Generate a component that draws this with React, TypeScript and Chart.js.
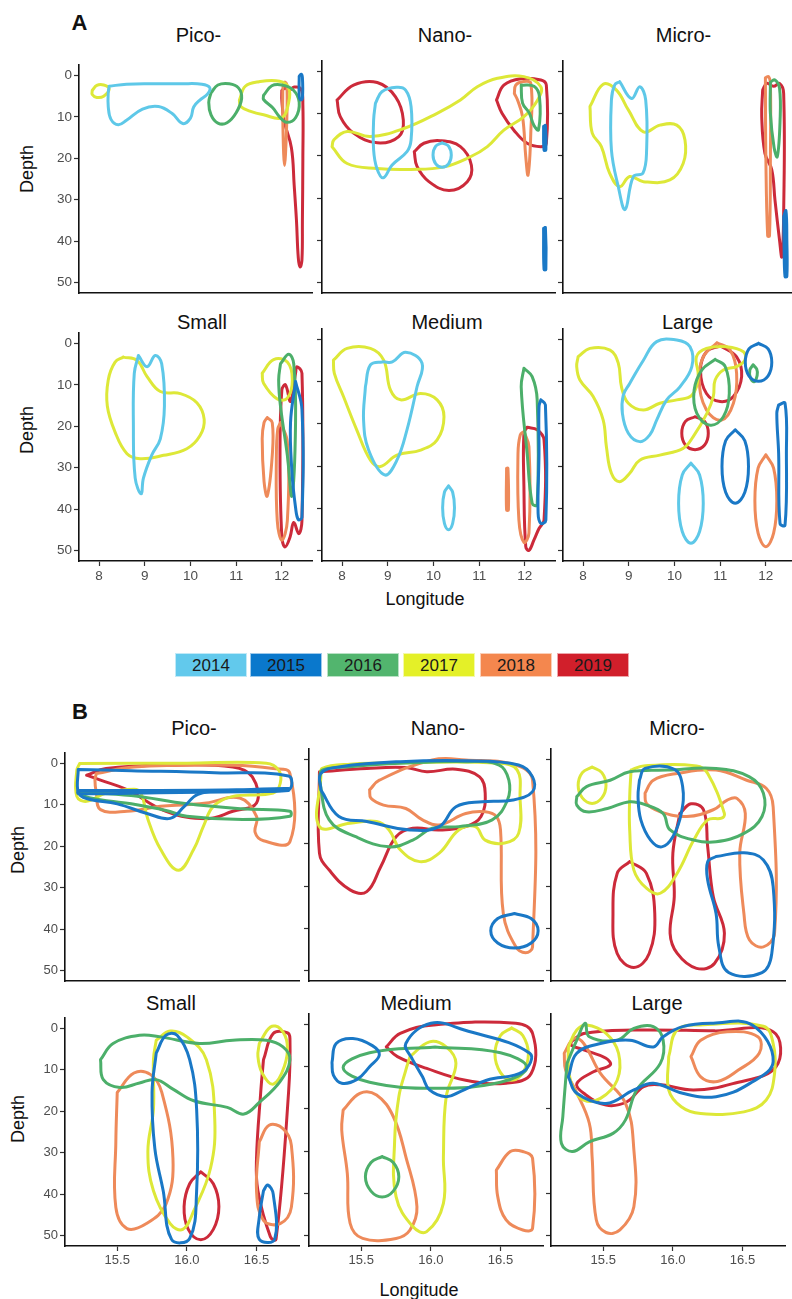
import React, { useEffect, useRef } from "react";
import { Chart, registerables } from "chart.js";
Chart.register(...registerables);

// ---------- legend / colours ----------
const YEARS = ["2014", "2015", "2016", "2017", "2018", "2019"];
const LINE_COLORS = ["#5ec8e8", "#1a78c6", "#4caf6a", "#dde838", "#ee8a5a", "#cc2a3a"];
const LEGEND_COLORS = ["#62c9ec", "#0a78cc", "#52b56e", "#e4f028", "#f4874e", "#d11f2b"];

// ---------- axes ----------
const DEPTH_TICKS = [0, 10, 20, 30, 40, 50];
const DEPTH_LABELS = ["0", "10", "20", "30", "40", "50"];
const A_LON_TICKS = [8, 9, 10, 11, 12];
const A_LON_LABELS = ["8", "9", "10", "11", "12"];
const B_LON_TICKS = [15.5, 16.0, 16.5];
const B_LON_LABELS = ["15.5", "16.0", "16.5"];
const A_TITLES = ["Pico-", "Nano-", "Micro-", "Small", "Medium", "Large"];
const B_TITLES = ["Pico-", "Nano-", "Micro-", "Small", "Medium", "Large"];

// ---------- contour lines, [longitude, depth] ----------
// A Pico-
const aPico14 = [[8.22,2.6],[8.6,2.1],[9.2,2.0],[9.8,2.0],[10.25,2.1],[10.42,2.9],[10.38,4.4],[10.2,6.0],[10.07,7.6],[10.0,10.3],[9.83,11.6],[9.6,9.2],[9.3,7.5],[8.95,8.1],[8.6,10.8],[8.42,11.9],[8.26,10.6],[8.2,7.5],[8.2,4.2],[8.22,2.6]];
const aPico15 = [[12.38,0.2],[12.42,-0.3],[12.45,0.5],[12.45,5.5],[12.41,5.9],[12.38,5],[12.38,0.2]];
const aPico16a = [[10.45,4.2],[10.6,2.3],[10.85,2.0],[11.05,3.0],[11.12,5.5],[11.0,9.0],[10.8,11.4],[10.6,11.5],[10.45,9.5],[10.4,6.5],[10.45,4.2]];
const aPico16b = [[11.6,4.8],[11.78,2.5],[12.0,2.3],[12.25,3.5],[12.38,6.5],[12.3,10.2],[12.1,11.3],[11.95,10.0],[11.8,7.8],[11.6,5.8],[11.6,4.8]];
const aPico17a = [[7.85,3.6],[7.95,2.4],[8.1,2.3],[8.22,3.2],[8.1,5.0],[7.95,5.3],[7.85,4.6],[7.85,3.6]];
const aPico17b = [[11.07,6.0],[11.2,2.6],[11.5,1.5],[11.95,1.4],[12.15,3.0],[12.15,6.5],[12.0,10.2],[11.6,9.5],[11.3,8.6],[11.1,7.5],[11.07,6.0]];
const aPico18 = [[12.03,2.2],[12.07,1.6],[12.11,2.5],[12.11,10],[12.08,19],[12.06,21.7],[12.04,19],[12.02,10],[12.02,4],[12.03,2.2]];
const aPico19 = [[12.0,3.6],[12.08,3.0],[12.15,3.7],[12.27,2.8],[12.42,3.3],[12.46,7],[12.46,20],[12.45,35],[12.44,44.5],[12.4,46.2],[12.36,44],[12.32,35],[12.27,26.5],[12.21,17.5],[12.05,11],[12.0,6],[12.0,3.6]];
// A Nano-
const aNano14a = [[8.73,7.5],[8.87,4.8],[9.19,3.75],[9.39,4.4],[9.51,8.3],[9.51,16.2],[9.42,19.0],[9.09,22.2],[8.9,25.2],[8.76,22.9],[8.69,18.6],[8.69,11.5],[8.73,7.5]];
const aNano14b = [[10.19,16.9],[10.33,17.7],[10.39,19.8],[10.33,21.9],[10.19,22.7],[10.05,21.9],[9.99,19.8],[10.05,17.7],[10.19,16.9]];
const aNano15a = [[12.41,13],[12.45,12.8],[12.46,18.6],[12.42,18.6],[12.41,13]];
const aNano15b = [[12.41,37.2],[12.45,37.0],[12.46,46.9],[12.42,46.9],[12.41,37.2]];
const aNano16 = [[11.92,3.2],[12.2,3.5],[12.32,6],[12.3,13.8],[12.2,12.8],[12.1,9.9],[11.95,7.5],[11.92,3.2]];
const aNano17 = [[7.78,17.8],[8.11,21.8],[8.77,23],[9.5,23.2],[10.23,22.6],[10.81,20.2],[11.18,17.8],[11.54,13.9],[11.98,10.7],[12.28,6.75],[12.35,3.6],[11.98,1.2],[11.4,1.6],[10.96,3.6],[10.59,6.75],[10.08,9.9],[9.35,13.5],[8.62,15.4],[8.11,14.2],[7.82,16.2],[7.78,17.8]];
const aNano18 = [[11.77,5.2],[11.8,3.2],[11.95,2.4],[12.13,2.8],[12.13,14.6],[12.07,24.5],[12.02,20.2],[11.95,10.7],[11.84,6.75],[11.77,5.2]];
const aNano19a = [[7.89,6.75],[8.25,3.2],[8.77,2.6],[9.17,6.0],[9.34,11.5],[9.24,15.4],[8.77,16.9],[8.25,14.6],[7.96,10.7],[7.89,6.75]];
const aNano19b = [[9.58,19],[9.79,17],[10.15,16.4],[10.59,17.8],[10.83,22.2],[10.74,26.1],[10.34,28.2],[9.9,26.1],[9.64,22.5],[9.58,19]];
const aNano19c = [[11.38,6.75],[11.54,3.2],[11.91,1.7],[12.35,2.0],[12.47,3.2],[12.47,17.0],[12.35,17.8],[12.05,17.0],[11.76,13.9],[11.5,9.9],[11.38,6.75]];
// A Micro-
const aMicro14 = [[8.8,2.4],[9.06,6.4],[9.24,3.6],[9.37,6.75],[9.39,18.6],[9.31,24.1],[9.1,24.9],[8.92,32.7],[8.77,27.3],[8.62,18.6],[8.62,6.75],[8.69,3.2],[8.8,2.4]];
const aMicro15 = [[12.39,34.4],[12.44,33],[12.46,40],[12.46,48.6],[12.42,48.6],[12.4,42],[12.39,34.4]];
const aMicro16 = [[12.1,2.5],[12.2,2.0],[12.3,4],[12.31,12],[12.25,20.2],[12.18,18],[12.1,10],[12.1,2.5]];
const aMicro17 = [[8.15,8.3],[8.44,3.0],[8.73,4.4],[8.99,9.1],[9.32,14.3],[9.68,12.7],[10.05,12.7],[10.23,16.2],[10.19,21.8],[9.9,25.7],[9.32,26.1],[9.02,24.9],[8.8,27.3],[8.58,24.1],[8.4,17.8],[8.2,14.6],[8.15,8.3]];
const aMicro18 = [[11.99,1.5],[12.06,1.2],[12.1,3],[12.1,20],[12.08,39],[12.04,39],[12.0,20],[11.99,1.5]];
const aMicro19 = [[11.93,4.4],[12.02,2.8],[12.17,3.5],[12.3,2.8],[12.39,5.2],[12.39,33.6],[12.35,43.9],[12.3,40],[12.2,30.5],[12.13,23.3],[11.98,19.4],[11.91,10.7],[11.93,4.4]];
// A Small
const aSmall14 = [[8.86,2.9],[9.05,5.6],[9.23,2.9],[9.37,4.9],[9.43,15.1],[9.34,23.0],[9.15,27.0],[8.97,32.5],[8.92,36.3],[8.79,32.5],[8.75,19.1],[8.77,7.2],[8.86,2.9]];
const aSmall15 = [[12.3,9.2],[12.44,15.9],[12.44,42],[12.36,42.5],[12.3,39.6],[12.22,30.9],[12.19,19.1],[12.3,9.2]];
const aSmall16 = [[11.97,4.9],[12.15,2.6],[12.26,4.9],[12.3,19.1],[12.22,36.8],[12.12,27],[11.97,15.1],[11.93,8.8],[11.97,4.9]];
const aSmall17a = [[8.53,3.3],[8.83,4.1],[9.05,8.0],[9.34,11.6],[9.78,12.1],[10.14,14.3],[10.3,18.3],[10.21,22.2],[9.92,25.4],[9.41,27.0],[8.9,27.8],[8.61,26.6],[8.35,21.4],[8.18,15.1],[8.2,8.8],[8.35,4.5],[8.53,3.3]];
const aSmall17b = [[11.57,7.2],[11.82,3.9],[12.12,4.5],[12.23,8.8],[12.12,13.2],[11.9,13.4],[11.6,9.6],[11.57,7.2]];
const aSmall18a = [[11.68,17.9],[11.79,19.1],[11.79,27],[11.68,36.8],[11.61,33.3],[11.57,23],[11.61,19.1],[11.68,17.9]];
const aSmall18b = [[11.97,19.1],[12.12,23.8],[12.12,42.8],[12.0,47.5],[11.9,42.8],[11.88,27],[11.91,20.7],[11.97,19.1]];
const aSmall19 = [[12.3,7.2],[12.33,5.6],[12.44,7.2],[12.44,42.8],[12.37,45.9],[12.26,43.2],[12.18,46.7],[12.07,49.1],[12.0,46.7],[11.96,27],[12.0,11.2],[12.08,10],[12.19,14],[12.3,7.2]];
// A Medium
const aMed14a = [[8.51,11.2],[8.62,6.0],[8.88,5.3],[9.1,5.3],[9.39,3.0],[9.75,5.6],[9.64,11.2],[9.42,21.4],[9.2,28.6],[8.93,32.1],[8.58,26.2],[8.47,19.1],[8.51,11.2]];
const aMed14b = [[10.33,34.7],[10.42,36.2],[10.46,39.9],[10.42,43.6],[10.33,45.1],[10.24,43.6],[10.2,39.9],[10.24,36.2],[10.33,34.7]];
const aMed15 = [[12.35,14.3],[12.45,15.5],[12.46,42.8],[12.35,43.6],[12.29,41.2],[12.31,27],[12.31,15.9],[12.35,14.3]];
const aMed16 = [[11.98,6.8],[12.16,8.8],[12.27,14.3],[12.27,39.2],[12.16,38.8],[12.05,27],[11.92,11.2],[11.98,6.8]];
const aMed17 = [[7.81,4.9],[8.11,2.1],[8.62,2.1],[8.91,4.9],[9.06,12.0],[9.28,14.3],[9.72,12.8],[10.08,14.3],[10.23,18.3],[10.08,23.8],[9.72,26.2],[9.2,27.4],[8.84,30.1],[8.62,28.6],[8.32,21.4],[8.03,13.5],[7.83,8.0],[7.81,4.9]];
const aMed18a = [[11.6,30.5],[11.63,30.5],[11.64,40.4],[11.6,40.4],[11.6,30.5]];
const aMed18b = [[11.98,21.8],[12.09,25.4],[12.09,45.9],[11.98,48.1],[11.87,42.8],[11.85,27],[11.9,22.6],[11.98,21.8]];
const aMed19 = [[12.05,20.8],[12.27,21.4],[12.42,23.8],[12.42,42.8],[12.31,44.8],[12.2,47.5],[12.09,50],[12.02,49.1],[11.98,34.9],[11.98,22.2],[12.05,20.8]];
// A Large
const aLarge14a = [[9.02,10.4],[9.32,4.9],[9.61,0.5],[10.05,0.1],[10.34,1.7],[10.38,6.4],[10.12,11.2],[9.83,14.3],[9.61,19.1],[9.46,22.6],[9.24,24.2],[8.99,22.2],[8.86,17.5],[8.88,13.2],[9.02,10.4]];
const aLarge14b = [[10.36,29.3],[10.55,32.1],[10.63,38.8],[10.55,45.5],[10.36,48.3],[10.17,45.5],[10.09,38.8],[10.17,32.1],[10.36,29.3]];
const aLarge15a = [[11.84,0.9],[12.05,2.2],[12.13,5.4],[12.05,8.6],[11.84,9.9],[11.63,8.6],[11.55,5.4],[11.63,2.2],[11.84,0.9]];
const aLarge15b = [[11.33,21.4],[11.54,24.0],[11.62,30.1],[11.54,36.2],[11.33,38.8],[11.12,36.2],[11.04,30.1],[11.12,24.0],[11.33,21.4]];
const aLarge15c = [[12.28,15.5],[12.42,15.1],[12.45,27],[12.42,44],[12.31,43.6],[12.28,27],[12.24,17.5],[12.28,15.5]];
const aLarge16a = [[10.89,4.7],[11.11,6.4],[11.2,12.8],[11.07,18.3],[10.78,20.3],[10.49,17.5],[10.43,12.0],[10.6,7.2],[10.89,4.7]];
const aLarge16b = [[11.72,6.0],[11.8,7.0],[11.81,8.5],[11.74,10.0],[11.66,9.0],[11.65,7.2],[11.72,6.0]];
const aLarge17 = [[7.89,4.1],[8.15,2.1],[8.59,2.5],[8.77,5.6],[8.84,11.2],[8.99,15.1],[9.32,16.7],[9.68,15.1],[10.05,14.3],[10.38,13.2],[10.52,8.8],[10.48,4.1],[10.7,2.1],[11.14,1.7],[11.51,2.9],[11.54,4.9],[11.36,6.4],[11.07,7.2],[10.89,9.6],[10.85,13.5],[10.71,17.5],[10.41,23.0],[10.19,25.8],[9.68,27.4],[9.24,28.6],[9.02,31.7],[8.8,33.7],[8.62,31.7],[8.51,25.4],[8.44,19.1],[8.22,13.5],[7.93,9.6],[7.86,6.4],[7.89,4.1]];
const aLarge18a = [[10.93,0.75],[11.22,2.5],[11.36,8.0],[11.29,15.1],[11.03,19.1],[10.7,16.7],[10.54,9.6],[10.63,4.1],[10.93,0.75]];
const aLarge18b = [[12.0,27.3],[12.17,30.5],[12.24,38.2],[12.17,45.9],[12.0,49.1],[11.83,45.9],[11.76,38.2],[11.83,30.5],[12.0,27.3]];
const aLarge19a = [[11.0,1.5],[11.36,4.1],[11.47,8.8],[11.29,13.5],[11.0,14.7],[10.7,12.8],[10.57,7.2],[10.7,2.9],[11.0,1.5]];
const aLarge19b = [[10.45,18.3],[10.66,19.4],[10.74,22.2],[10.66,25.0],[10.45,26.1],[10.24,25.0],[10.16,22.2],[10.24,19.4],[10.45,18.3]];

// B Pico-
const bPico15a = [[15.22,1.5],[15.6,1.8],[16.2,2.3],[16.73,3.1],[16.73,6.3],[16.3,6.6],[16.08,7.5],[15.98,10.5],[15.88,13.3],[15.72,12.2],[15.5,9.8],[15.28,8.5],[15.22,7],[15.22,1.5]];
const bPico15b = [[15.22,6.6],[15.8,6.6],[16.4,6.4],[16.73,6.1],[16.73,6.6],[16.4,6.9],[15.8,7.1],[15.22,7.3],[15.22,6.6]];
const bPico16 = [[15.22,7.0],[15.6,7.8],[16.0,9.8],[16.4,11.0],[16.74,11.6],[16.74,12.8],[16.4,13.6],[16.0,12.8],[15.85,11.4],[15.6,9.8],[15.3,8.3],[15.22,7.0]];
const bPico17 = [[15.23,0.1],[16.0,0.0],[16.57,0.0],[16.66,1.7],[16.67,4.9],[16.62,7.2],[16.33,8.0],[16.19,10.4],[16.12,15.1],[16.05,20.7],[15.94,25.8],[15.81,20.7],[15.72,13.5],[15.67,7.2],[15.62,6.3],[15.42,7.2],[15.28,9.2],[15.21,8.0],[15.21,1.7],[15.23,0.1]];
const bPico18 = [[15.35,2.5],[15.62,0.9],[16.33,0.5],[16.62,1.3],[16.74,2.5],[16.74,18.9],[16.55,18.7],[16.49,16.7],[16.5,12.8],[16.38,8.4],[16.14,9.6],[16.0,10.0],[15.81,10.4],[15.57,11.6],[15.38,11.2],[15.35,7.2],[15.34,4.1],[15.35,2.5]];
const bPico19 = [[15.28,2.9],[15.42,1.3],[15.85,0.5],[16.33,0.9],[16.47,3.3],[16.5,9.6],[16.33,11.6],[16.14,13.4],[15.85,11.6],[15.57,6.4],[15.38,4.1],[15.28,2.9]];
// B Nano-
const bNano15a = [[15.21,7.2],[15.34,13.5],[15.54,14.7],[15.85,16.7],[16.06,15.9],[16.18,11.2],[16.37,10.0],[16.59,9.6],[16.73,7.6],[16.73,4.1],[16.63,1.3],[16.25,0.3],[15.78,0.5],[15.35,1.7],[15.21,3.3],[15.21,7.2]];
const bNano15b = [[16.6,36.5],[16.72,37.7],[16.77,40.6],[16.72,43.5],[16.6,44.7],[16.48,43.5],[16.43,40.6],[16.48,37.7],[16.6,36.5]];
const bNano16 = [[15.2,4.9],[15.27,14.3],[15.46,18.3],[15.7,20.7],[15.87,19.1],[16.01,16.3],[16.2,15.9],[16.44,14.3],[16.55,9.6],[16.56,4.9],[16.49,1.3],[16.25,0.5],[15.78,0.9],[15.42,1.7],[15.22,2.5],[15.2,4.9]];
const bNano17 = [[15.21,4.1],[15.2,15.9],[15.42,15.1],[15.61,14.7],[15.7,16.7],[15.78,21.4],[15.92,24.2],[16.06,22.2],[16.2,16.7],[16.32,15.9],[16.39,19.1],[16.53,19.8],[16.63,17.5],[16.64,8.8],[16.62,2.5],[16.49,0.9],[15.78,0.75],[15.42,1.1],[15.22,2.1],[15.21,4.1]];
const bNano18 = [[15.56,7.2],[15.63,4.9],[16.01,0.1],[16.25,0.1],[16.61,1.3],[16.73,4.9],[16.73,44.4],[16.68,45.8],[16.61,44.4],[16.52,36.5],[16.5,16.7],[16.47,13.5],[16.39,12.4],[16.25,12.8],[16.06,15.5],[15.94,14.3],[15.82,11.6],[15.66,10.8],[15.57,9.2],[15.56,7.2]];
const bNano19 = [[15.2,2.9],[15.54,2.1],[15.82,1.9],[15.97,2.9],[16.18,2.3],[16.35,4.1],[16.39,8.0],[16.36,13.5],[16.25,15.9],[16.06,16.7],[15.87,16.3],[15.75,18.3],[15.64,25.4],[15.54,31.3],[15.42,30.9],[15.27,26.2],[15.2,22.2],[15.2,2.9]];
// B Micro-
const bMicro15a = [[15.76,4.9],[15.8,2.1],[16.01,2.3],[16.07,6.4],[16.06,12.8],[16.0,18.3],[15.92,20.7],[15.84,19.1],[15.77,14.3],[15.75,8.8],[15.76,4.9]];
const bMicro15b = [[16.31,23.0],[16.51,22.1],[16.65,23.8],[16.72,30.1],[16.71,46],[16.64,50.5],[16.4,50.5],[16.33,44.4],[16.31,36.5],[16.25,28.6],[16.25,24.2],[16.31,23.0]];
const bMicro16 = [[15.31,8.8],[15.38,6.4],[15.55,4.9],[15.69,2.9],[15.96,2.5],[16.31,2.1],[16.55,4.1],[16.65,8.0],[16.64,13.5],[16.51,17.5],[16.31,19.5],[16.15,19.1],[15.98,16.7],[15.93,12.8],[15.81,10.8],[15.69,10.0],[15.53,11.6],[15.38,12.4],[15.31,10.8],[15.31,8.8]];
const bMicro17a = [[15.42,1.8],[15.49,3.1],[15.52,6.1],[15.49,9.1],[15.42,10.4],[15.35,9.1],[15.32,6.1],[15.35,3.1],[15.42,1.8]];
const bMicro17b = [[15.7,2.5],[15.79,1.5],[16.17,1.5],[16.25,3.3],[16.37,12.8],[16.35,13.9],[16.25,14.3],[16.15,19.1],[16.03,27],[15.91,31.7],[15.81,30.5],[15.72,26.2],[15.69,16.7],[15.69,8.8],[15.7,2.5]];
const bMicro18 = [[15.8,8.0],[15.86,4.9],[16.03,3.3],[16.31,2.5],[16.53,4.9],[16.67,6.8],[16.72,11.2],[16.73,41.2],[16.65,44.4],[16.55,42.8],[16.51,36.5],[16.48,22.2],[16.52,12.8],[16.46,9.2],[16.39,9.6],[16.29,11.9],[16.1,13.5],[15.91,12.4],[15.81,10.4],[15.8,8.0]];
const bMicro19a = [[16.05,12.8],[16.13,10.5],[16.22,11.9],[16.25,20.7],[16.29,32.5],[16.37,41.2],[16.3,48.3],[16.17,49.5],[16.03,45.9],[15.98,41.2],[16.01,32.5],[16.0,22.2],[16.05,12.8]];
const bMicro19b = [[15.69,24.2],[15.81,27],[15.87,36.5],[15.83,46],[15.72,49.3],[15.6,46],[15.57,36.5],[15.6,27],[15.69,24.2]];
// B Small
const bSmall15a = [[15.78,6.0],[15.85,1.7],[15.93,1.7],[16.02,7.6],[16.07,19.5],[16.07,39.2],[16.02,50.7],[15.89,50.9],[15.83,39.2],[15.77,29],[15.75,15.5],[15.78,6.0]];
const bSmall15b = [[16.55,39.2],[16.58,37.8],[16.62,40],[16.63,50.9],[16.52,50.9],[16.52,45.5],[16.55,39.2]];
const bSmall16 = [[15.38,7.6],[15.47,3.7],[15.66,1.7],[15.81,2.1],[16.09,3.7],[16.33,2.9],[16.57,2.9],[16.69,4.5],[16.74,7.6],[16.67,12.8],[16.52,17.9],[16.41,20.7],[16.29,19.1],[16.05,17.5],[15.9,14.7],[15.78,12.4],[15.66,13.2],[15.52,14.3],[15.4,12.4],[15.38,7.6]];
const bSmall17a = [[15.78,2.9],[15.88,0.7],[16.0,2.1],[16.14,7.6],[16.2,21.8],[16.17,33.7],[16.05,44.0],[15.97,48.5],[15.88,47.1],[15.76,39.2],[15.72,29.7],[15.76,19.5],[15.76,7.6],[15.78,2.9]];
const bSmall17b = [[16.52,3.7],[16.6,-0.3],[16.67,0.1],[16.72,3.7],[16.7,9.2],[16.62,13.5],[16.54,10.8],[16.51,6.8],[16.52,3.7]];
const bSmall18a = [[15.5,15.5],[15.62,10.8],[15.74,11.2],[15.82,15.5],[15.9,31.3],[15.85,42.4],[15.71,47.1],[15.57,48.3],[15.49,43.2],[15.49,27.4],[15.5,15.5]];
const bSmall18b = [[16.52,27.4],[16.59,23.4],[16.69,24.2],[16.75,28.2],[16.75,43.2],[16.67,47.1],[16.55,46.3],[16.5,39.2],[16.52,27.4]];
const bSmall19a = [[16.1,34.6],[16.19,37.5],[16.23,43],[16.19,48.5],[16.1,51],[16.01,48.5],[15.98,43],[16.02,37.5],[16.1,34.6]];
const bSmall19b = [[16.55,7.6],[16.62,1.3],[16.72,1.1],[16.74,2.5],[16.73,15.5],[16.64,50.9],[16.6,50.3],[16.51,39.2],[16.5,31.3],[16.53,15.5],[16.55,7.6]];
// B Medium
const bMed15a = [[15.29,9.0],[15.32,4.5],[15.44,3.3],[15.58,5.0],[15.63,7.2],[15.56,10.0],[15.47,13.0],[15.36,13.9],[15.3,12.0],[15.29,9.0]];
const bMed15b = [[15.87,8.4],[15.82,4.5],[16.0,-0.3],[16.24,1.3],[16.71,6.8],[16.66,11.2],[16.4,13.2],[16.21,15.9],[16.11,17.1],[15.99,15.5],[15.94,12.4],[15.87,8.4]];
const bMed16a = [[16.03,5.3],[16.5,6.7],[16.69,10.2],[16.5,13.7],[16.03,15.1],[15.56,13.7],[15.37,10.2],[15.56,6.7],[16.03,5.3]];
const bMed16b = [[15.65,31.3],[15.73,32.7],[15.77,36.1],[15.73,39.5],[15.65,40.9],[15.57,39.5],[15.53,36.1],[15.57,32.7],[15.65,31.3]];
const bMed17a = [[15.85,7.6],[15.99,4.1],[16.11,5.3],[16.18,9.2],[16.11,17.1],[16.09,31.3],[16.09,42.4],[15.97,49.1],[15.87,47.9],[15.75,40.8],[15.74,27.4],[15.77,17.1],[15.82,10.8],[15.85,7.6]];
const bMed17b = [[16.58,0.8],[16.66,2.6],[16.7,7.0],[16.66,11.4],[16.58,13.2],[16.5,11.4],[16.46,7.0],[16.5,2.6],[16.58,0.8]];
const bMed18a = [[15.37,20.3],[15.49,16.3],[15.61,16.7],[15.73,21.8],[15.82,31.3],[15.9,43.2],[15.85,48.7],[15.75,50.7],[15.51,50.7],[15.42,47.1],[15.4,35.3],[15.36,25.0],[15.37,20.3]];
const bMed18b = [[16.47,34.5],[16.57,30.1],[16.66,30.1],[16.73,31.7],[16.73,48.3],[16.66,48.7],[16.54,46.3],[16.48,40.8],[16.47,34.5]];
const bMed19 = [[15.68,5.3],[15.78,2.1],[16.02,0.1],[16.61,-0.3],[16.73,2.1],[16.72,11.6],[16.54,13.9],[16.25,13.2],[15.97,10.4],[15.76,7.6],[15.68,5.3]];
// B Large
const bLarge15 = [[15.25,12.4],[15.31,6.8],[15.48,4.5],[15.69,3.7],[15.86,5.3],[15.93,2.9],[16.07,0.5],[16.29,-0.3],[16.57,0.1],[16.72,8.8],[16.55,14.0],[16.31,17.1],[16.07,16.3],[15.86,13.9],[15.72,15.5],[15.52,18.7],[15.31,16.3],[15.25,12.4]];
const bLarge16 = [[15.24,9.2],[15.31,3.7],[15.37,-0.3],[15.4,2.9],[15.6,3.7],[15.72,0.9],[15.86,0.5],[15.93,3.7],[15.91,9.2],[15.74,15.5],[15.66,22.6],[15.57,25.8],[15.4,27.8],[15.28,30.1],[15.2,28.2],[15.21,21.8],[15.24,9.2]];
const bLarge17a = [[15.25,5.3],[15.31,1.3],[15.38,0.1],[15.52,2.1],[15.61,6.8],[15.6,13.2],[15.48,17.5],[15.36,17.9],[15.28,14.7],[15.25,10.0],[15.25,5.3]];
const bLarge17b = [[15.97,7.6],[16.03,1.3],[16.2,0.1],[16.65,0.4],[16.72,4.5],[16.73,11.6],[16.67,17.9],[16.51,20.7],[16.2,21.1],[16.06,19.5],[15.97,15.5],[15.97,7.6]];
const bLarge18a = [[15.22,6.8],[15.29,3.3],[15.36,4.5],[15.48,11.6],[15.66,18.7],[15.72,29.7],[15.72,43.2],[15.62,48.7],[15.52,49.3],[15.45,46.3],[15.42,31.3],[15.4,23.4],[15.3,15.5],[15.23,10.8],[15.22,6.8]];
const bLarge18b = [[16.13,7.6],[16.2,3.7],[16.39,1.7],[16.61,2.9],[16.62,6.8],[16.47,10.8],[16.32,13.5],[16.2,12.4],[16.13,7.6]];
const bLarge19 = [[15.27,4.1],[15.36,2.1],[15.72,1.3],[16.3,1.5],[16.72,1.7],[16.74,10.0],[16.43,14.0],[16.15,15.5],[15.91,14.3],[15.79,14.7],[15.67,18.3],[15.52,19.1],[15.36,16.3],[15.31,14.0],[15.43,11.2],[15.55,9.6],[15.52,8.0],[15.36,6.0],[15.27,4.9],[15.27,4.1]];

// each panel: list of [yearIndex, contour]
const A_CURVES = [
  [[0, aPico14], [1, aPico15], [2, aPico16a], [2, aPico16b], [3, aPico17a], [3, aPico17b], [4, aPico18], [5, aPico19]],
  [[0, aNano14a], [0, aNano14b], [1, aNano15a], [1, aNano15b], [2, aNano16], [3, aNano17], [4, aNano18], [5, aNano19a], [5, aNano19b], [5, aNano19c]],
  [[0, aMicro14], [1, aMicro15], [2, aMicro16], [3, aMicro17], [4, aMicro18], [5, aMicro19]],
  [[0, aSmall14], [1, aSmall15], [2, aSmall16], [3, aSmall17a], [3, aSmall17b], [4, aSmall18a], [4, aSmall18b], [5, aSmall19]],
  [[0, aMed14a], [0, aMed14b], [1, aMed15], [2, aMed16], [3, aMed17], [4, aMed18a], [4, aMed18b], [5, aMed19]],
  [[0, aLarge14a], [0, aLarge14b], [1, aLarge15a], [1, aLarge15b], [1, aLarge15c], [2, aLarge16a], [2, aLarge16b], [3, aLarge17], [4, aLarge18a], [4, aLarge18b], [5, aLarge19a], [5, aLarge19b]],
];
const B_CURVES = [
  [[1, bPico15a], [1, bPico15b], [2, bPico16], [3, bPico17], [4, bPico18], [5, bPico19]],
  [[1, bNano15a], [1, bNano15b], [2, bNano16], [3, bNano17], [4, bNano18], [5, bNano19]],
  [[1, bMicro15a], [1, bMicro15b], [2, bMicro16], [3, bMicro17a], [3, bMicro17b], [4, bMicro18], [5, bMicro19a], [5, bMicro19b]],
  [[1, bSmall15a], [1, bSmall15b], [2, bSmall16], [3, bSmall17a], [3, bSmall17b], [4, bSmall18a], [4, bSmall18b], [5, bSmall19a], [5, bSmall19b]],
  [[1, bMed15a], [1, bMed15b], [2, bMed16a], [2, bMed16b], [3, bMed17a], [3, bMed17b], [4, bMed18a], [4, bMed18b], [5, bMed19]],
  [[1, bLarge15], [2, bLarge16], [3, bLarge17a], [3, bLarge17b], [4, bLarge18a], [4, bLarge18b], [5, bLarge19]],
];

// ---------- layout ----------
const FONT = "'Liberation Sans', Arial, Helvetica, sans-serif";
const PADL = 50, PADT = 6, PADR = 6, PADB = 32;

type PanelProps = {
  left: number; top: number; w: number; h: number;
  xMin: number; xMax: number; xTicks: number[]; xLabels: string[];
  showXTicks: boolean; showYLabels: boolean; curves: any[]; tickFont: number;
};

function ContourPanel(p: PanelProps) {
  const ref = useRef<HTMLCanvasElement>(null);
  useEffect(() => {
    if (!ref.current) return;
    const datasets = p.curves.map(([yi, pts]: [number, number[][]]) => ({
      label: YEARS[yi],
      data: pts.map(([x, y]) => ({ x, y })),
      borderColor: LINE_COLORS[yi],
      backgroundColor: LINE_COLORS[yi],
      borderWidth: 3,
      pointRadius: 0,
      showLine: true,
      tension: 0.4,
      fill: false,
      borderCapStyle: "round",
      borderJoinStyle: "round",
    }));
    const chart = new Chart(ref.current, {
      type: "scatter",
      data: { datasets },
      options: {
        responsive: false,
        animation: false,
        events: [],
        layout: { padding: { left: 0, top: PADT, right: PADR, bottom: 0 } },
        plugins: { legend: { display: false }, tooltip: { enabled: false } },
        scales: {
          x: {
            type: "linear",
            min: p.xMin,
            max: p.xMax,
            afterBuildTicks: (s: any) => { s.ticks = p.xTicks.map((v) => ({ value: v })); },
            afterFit: (s: any) => { s.height = PADB; },
            grid: { display: p.showXTicks, drawOnChartArea: false, drawTicks: true, tickLength: 5, tickColor: "#333333", tickWidth: 1.2 },
            border: { display: true, color: "#111111", width: 1.6 },
            ticks: {
              display: p.showXTicks,
              autoSkip: false,
              maxRotation: 0,
              padding: 2,
              color: "#4d4d4d",
              font: { family: FONT, size: p.tickFont },
              callback: (_v: any, i: number) => p.xLabels[i],
            },
          },
          y: {
            type: "linear",
            reverse: true,
            min: -2.5,
            max: 52.5,
            afterBuildTicks: (s: any) => { s.ticks = DEPTH_TICKS.map((v) => ({ value: v })); },
            afterFit: (s: any) => { s.width = PADL; },
            grid: { display: true, drawOnChartArea: false, drawTicks: true, tickLength: 5, tickColor: "#333333", tickWidth: 1.2 },
            border: { display: true, color: "#111111", width: 1.6 },
            ticks: {
              display: p.showYLabels,
              autoSkip: false,
              padding: 2,
              color: "#4d4d4d",
              font: { family: FONT, size: p.tickFont },
              callback: (_v: any, i: number) => DEPTH_LABELS[i],
            },
          },
        },
      } as any,
    });
    return () => chart.destroy();
  }, []);
  return (
    <canvas
      ref={ref}
      width={PADL + p.w + PADR}
      height={PADT + p.h + PADB}
      style={{ position: "absolute", left: p.left - PADL, top: p.top - PADT }}
    />
  );
}

function Txt({ x, y, text, size, bold, rotate }: { x: number; y: number; text: string; size: number; bold?: boolean; rotate?: boolean }) {
  return (
    <div
      style={{
        position: "absolute", left: x, top: y,
        transform: `translate(-50%, -50%)${rotate ? " rotate(-90deg)" : ""}`,
        fontFamily: FONT, fontSize: size, fontWeight: bold ? 700 : 400,
        color: "#111111", whiteSpace: "nowrap", lineHeight: 1,
      }}
    >
      {text}
    </div>
  );
}

const A_COL_LEFT = [79, 322, 563];
const A_ROW_TOP = [61, 329];
const B_COL_LEFT = [65, 309, 551];
const B_ROW_TOP = [749, 1014];
const A_TITLE_POS = [[198.5, 34.5], [445, 34.5], [683.5, 34.5], [202, 322], [447, 322], [687.5, 322]];
const B_TITLE_POS = [[194, 728], [438, 728], [677, 728], [171, 1002.5], [416, 1002.5], [657, 1002.5]];
const LEGEND_LEFT = [175, 250, 327, 403, 480, 557];

export default function App() {
  return (
    <div style={{ position: "absolute", left: 0, top: 0, width: 792, height: 1299, overflow: "hidden", background: "#ffffff" }}>
      <Txt x={79.5} y={23} text="A" size={22} bold />
      <Txt x={80} y={711.5} text="B" size={22} bold />
      {A_TITLES.map((t, i) => <Txt key={"at" + i} x={A_TITLE_POS[i][0]} y={A_TITLE_POS[i][1]} text={t} size={20} />)}
      {B_TITLES.map((t, i) => <Txt key={"bt" + i} x={B_TITLE_POS[i][0]} y={B_TITLE_POS[i][1]} text={t} size={20} />)}
      <Txt x={27} y={169} text="Depth" size={18} rotate />
      <Txt x={27} y={430} text="Depth" size={18} rotate />
      <Txt x={18} y={850} text="Depth" size={18} rotate />
      <Txt x={18} y={1119} text="Depth" size={18} rotate />
      <Txt x={425} y={599} text="Longitude" size={18} />
      <Txt x={419} y={1290} text="Longitude" size={18} />
      {A_CURVES.map((c, i) => (
        <ContourPanel
          key={"a" + i}
          left={A_COL_LEFT[i % 3]} top={A_ROW_TOP[Math.floor(i / 3)]} w={233} h={232}
          xMin={7.56} xMax={12.66} xTicks={A_LON_TICKS} xLabels={A_LON_LABELS}
          showXTicks={i >= 3} showYLabels={i % 3 === 0} curves={c} tickFont={13.5}
        />
      ))}
      {B_CURVES.map((c, i) => (
        <ContourPanel
          key={"b" + i}
          left={B_COL_LEFT[i % 3]} top={B_ROW_TOP[Math.floor(i / 3)]} w={234} h={232}
          xMin={15.125} xMax={16.805} xTicks={B_LON_TICKS} xLabels={B_LON_LABELS}
          showXTicks={i >= 3} showYLabels={i % 3 === 0} curves={c} tickFont={13}
        />
      ))}
      {YEARS.map((y, i) => (
        <div
          key={"lg" + y}
          style={{
            position: "absolute", left: LEGEND_LEFT[i], top: 653, width: 72, height: 24,
            background: LEGEND_COLORS[i], boxSizing: "border-box", border: "1px solid rgba(255,255,255,0.6)",
            fontFamily: FONT, fontSize: 17, color: "#1a1a1a", lineHeight: "24px", textAlign: "center",
          }}
        >
          {y}
        </div>
      ))}
    </div>
  );
}
